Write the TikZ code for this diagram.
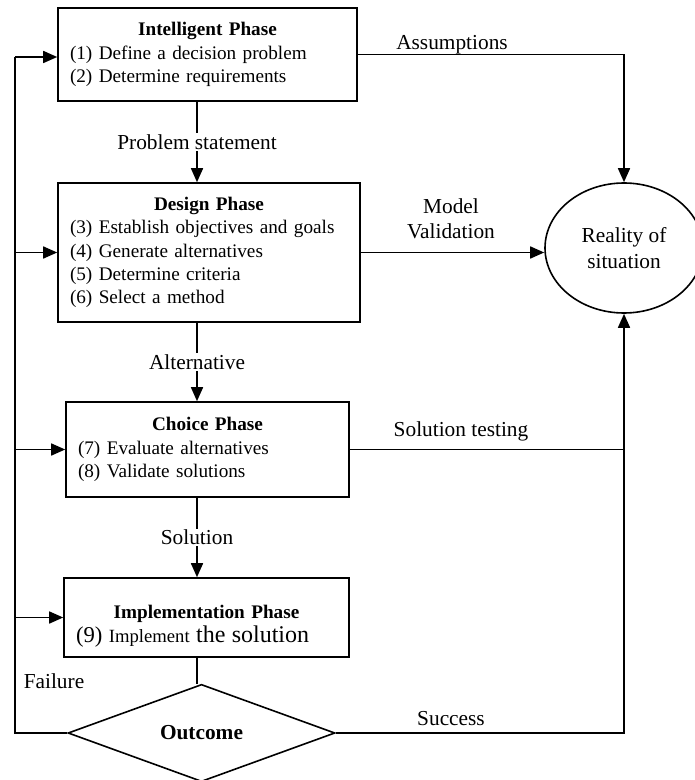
\documentclass[tikz,border=0pt]{standalone}
\usepackage{fontspec}
\setmainfont{Liberation Serif}
\usetikzlibrary{arrows.meta,shapes.geometric}

\newcommand{\phasetitle}[1]{\null\hfill\textbf{#1}\hfill\null}

\tikzset{every picture/.style={line width=1.2pt}}
\tikzset{
  phase/.style={draw, rectangle, align=left, inner xsep=9pt, inner ysep=3pt, font=\fontsize{14.4}{17.5}\selectfont},
  flowlabel/.style={inner sep=1pt, font=\fontsize{16}{19}\selectfont},
  flowarrow/.style={-{Triangle[length=10.5pt,width=9pt]}},
}

\begin{document}
\begin{tikzpicture}[x=0.75pt,y=0.75pt,yscale=-1,xscale=1]
\useasboundingbox (0,0) rectangle (694,780);

% Phase boxes
\node[phase, text width=206.25pt, minimum height=69.75pt] (intel) at (207.5,54.5) {\phasetitle{Intelligent Phase}\\(1) Define a decision problem\\(2) Determine requirements};
\node[phase, text width=208.5pt, minimum height=104.25pt] (design) at (209,252.5) {\phasetitle{Design Phase}\\(3) Establish objectives and goals\\(4) Generate alternatives\\(5) Determine criteria\\(6) Select a method};
\node[phase, text width=194.25pt, minimum height=71.25pt] (choice) at (207.5,449.5) {\phasetitle{Choice Phase}\\(7) Evaluate alternatives\\(8) Validate solutions};
\node[phase, text width=195.75pt, minimum height=59.25pt] (impl) at (206.5,617.5) {\rule{0pt}{23pt}\phasetitle{Implementation Phase}\\{\fontsize{17}{20}\selectfont (9)} {\fontsize{14}{17}\selectfont Implement} {\fontsize{18}{20}\selectfont the solution}};
% Decision and reality
\node[diamond, draw, minimum width=200.25pt, minimum height=67.5pt, inner sep=0pt, font=\bfseries\fontsize{16}{19}\selectfont] (outcome) at (201.5,733) {Outcome};
\node[ellipse, draw, minimum width=118.5pt, minimum height=97.5pt, align=center, font=\fontsize{16}{19}\selectfont] (reality) at (624,248) {Reality of\\situation};

\coordinate (axis) at (197,0);
\coordinate (loopbot) at (15,733);
\coordinate (looptop) at (15,57);

%Straight Lines down the middle
\draw[flowarrow] (intel.south -| axis) -- node[flowlabel, fill=white] (probstmt) {Problem statement} (design.north -| axis);
\draw[flowarrow] (design.south -| axis) -- node[flowlabel, fill=white] (altern) {Alternative} (choice.north -| axis);
\draw[flowarrow] (choice.south -| axis) -- node[flowlabel, fill=white] (solut) {Solution} (impl.north -| axis);
\draw (impl.south -| axis) -- (outcome.north -| axis);

%Straight Lines of the failure loop
\draw (outcome.west) -- (loopbot) -- (looptop);
\draw[flowarrow] (looptop) -- (looptop -| intel.west);
\draw[flowarrow] (loopbot |- design.west) -- (design.west);
\draw[flowarrow] (loopbot |- choice.west) -- (choice.west);
\draw[flowarrow] (loopbot |- impl.west) -- (impl.west);

%Straight Lines to the reality
\draw[flowarrow] (intel.east) -| (reality.north);
\draw[flowarrow] (design.east) -- (design.east -| reality.west);
\draw (choice.east) -- (choice.east -| reality.south);
\draw[flowarrow] (outcome.east) -| (reality.south);

% Text Node
\node[flowlabel] (assum) at (452,45) {Assumptions};
% Text Node
\node[flowlabel, align=center] (modval) at (451,219) {Model\\Validation};
% Text Node
\node[flowlabel] (soltest) at (461,431) {Solution testing};
% Text Node
\node[flowlabel] (success) at (451,719) {Success};
% Text Node
\node[flowlabel] (failure) at (54,681) {Failure};
\end{tikzpicture}
\end{document}
